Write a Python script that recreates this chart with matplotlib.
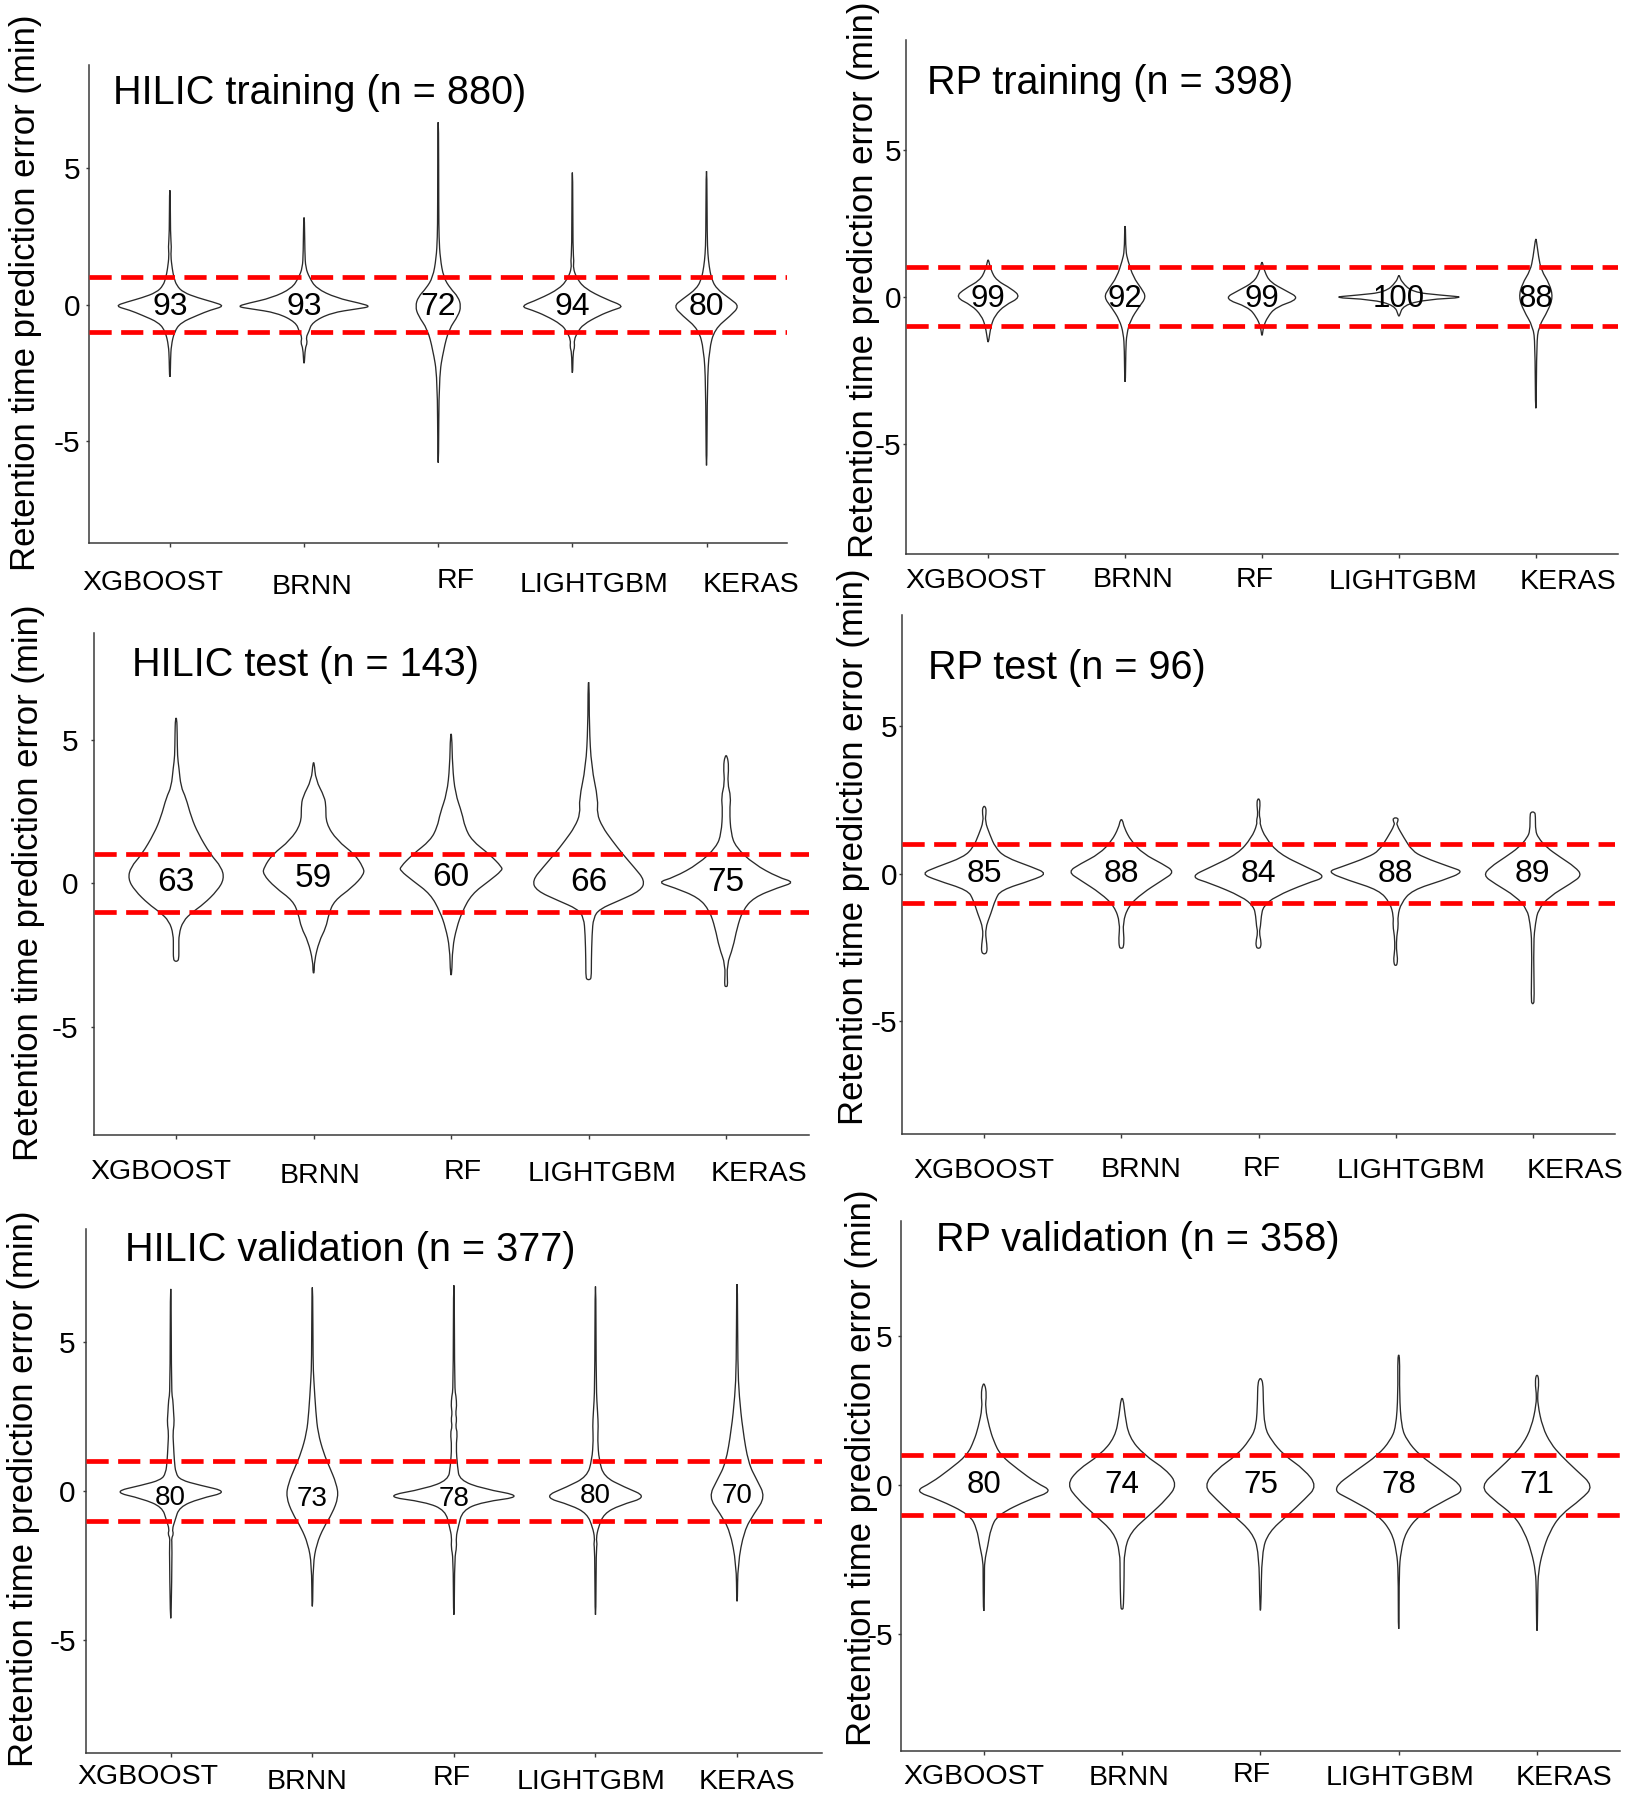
import matplotlib
matplotlib.use("Agg")
import matplotlib.pyplot as plt
from matplotlib.path import Path
from matplotlib.patches import PathPatch
from matplotlib.transforms import ScaledTranslation
import numpy as np

plt.rcParams['font.family'] = ['Liberation Sans', 'DejaVu Sans']

# ---------------- data ----------------
models = ["XGBOOST", "BRNN", "RF", "LIGHTGBM", "KERAS"]
titles = ["HILIC training (n = 880)", "RP training (n = 398)",
          "HILIC test (n = 143)", "RP test (n = 96)",
          "HILIC validation (n = 377)", "RP validation (n = 358)"]
ylabel_text = "Retention time prediction error (min)"
yticks = [-5, 0, 5]
tolerance = [1, -1]

# % of compounds inside +/-1 min window
hilic_train_pct = [93, 93, 72, 94, 80]
rp_train_pct = [99, 92, 99, 100, 88]
hilic_test_pct = [63, 59, 60, 66, 75]
rp_test_pct = [85, 88, 84, 88, 89]
hilic_val_pct = [80, 73, 78, 80, 70]
rp_val_pct = [80, 74, 75, 78, 71]

# y position of the percentage label
hilic_train_lab_y = [-0.1, -0.1, -0.1, -0.1, -0.1]
rp_train_lab_y = [-0.07, -0.07, -0.07, -0.07, -0.07]
hilic_test_lab_y = [0.03, 0.15, 0.2, 0.03, 0.03]
rp_test_lab_y = [0.0, 0.0, 0.0, 0.0, 0.0]
hilic_val_lab_y = [-0.23, -0.27, -0.27, -0.19, -0.19]
rp_val_lab_y = [0.0, 0.0, 0.0, 0.0, 0.0]

# violin outlines: (error in min, half width in category units)
hilic_train_violins = {
    "XGBOOST": [(4.2, .003), (2.6, .004), (2.1, .012), (1.8, .006), (1.3, .018), (1.0, .03), (0.7, .05),
                (0.45, .1), (0.25, .21), (0.1, .32), (-0.05, .41), (-0.2, .3), (-0.38, .21), (-0.66, .08),
                (-1.0, .033), (-1.5, .01), (-2.0, .005), (-2.65, .003)],
    "BRNN": [(3.2, .003), (1.9, .006), (1.35, .012), (1.0, .04), (0.6, .09), (0.25, .24), (0.05, .42),
             (-0.07, .5), (-0.15, .4), (-0.3, .2), (-0.65, .06), (-1.0, .035), (-1.2, .015), (-1.4, .025),
             (-1.6, .008), (-2.15, .003)],
    "RF": [(6.7, .003), (3.5, .004), (2.45, .006), (1.7, .015), (1.0, .04), (0.6, .09), (0.28, .15),
           (-0.06, .17), (-0.4, .15), (-0.9, .08), (-1.65, .04), (-2.65, .006), (-5.8, .003)],
    "LIGHTGBM": [(4.85, .003), (2.0, .004), (1.6, .012), (1.35, .006), (1.0, .03), (0.6, .09), (0.2, .25),
                 (-0.06, .39), (-0.2, .3), (-0.4, .2), (-0.73, .08), (-1.0, .04), (-1.3, .012), (-1.55, .018),
                 (-1.75, .005), (-2.5, .003)],
    "KERAS": [(4.9, .003), (2.5, .005), (1.85, .01), (1.4, .02), (1.0, .035), (0.6, .07), (0.2, .18),
              (-0.06, .245), (-0.4, .18), (-0.9, .06), (-1.65, .02), (-2.9, .006), (-5.9, .003)],
}
rp_train_violins = {
    "XGBOOST": [(1.25, .003), (0.9, .02), (0.55, .06), (0.27, .17), (-0.02, .24), (-0.3, .12), (-0.64, .05),
                (-1.0, .02), (-1.55, .003)],
    "BRNN": [(2.4, .003), (1.55, .005), (1.23, .02), (0.66, .06), (0.27, .12), (-0.02, .155), (-0.36, .1),
             (-0.8, .04), (-1.26, .012), (-1.8, .005), (-2.9, .003)],
    "RF": [(1.17, .003), (0.83, .02), (0.49, .06), (0.21, .17), (-0.07, .28), (-0.36, .1), (-0.7, .04),
           (-1.03, .01), (-1.32, .003)],
    "LIGHTGBM": [(0.72, .003), (0.49, .02), (0.15, .1), (0.05, .3), (-0.03, .5), (-0.1, .2), (-0.3, .03),
                 (-0.67, .003)],
    "KERAS": [(1.96, .003), (1.34, .02), (0.89, .04), (0.43, .1), (-0.02, .125), (-0.47, .09), (-1.03, .02),
              (-1.6, .006), (-3.8, .003)],
}
hilic_test_violins = {
    "XGBOOST": [(5.75, .005), (5.2, .008), (4.4, .01), (4.05, .02), (3.35, .035), (3.0, .07), (2.3, .11),
                (1.73, .16), (1.0, .25), (0.56, .33), (0.15, .35), (-0.26, .3), (-0.73, .2), (-1.0, .12),
                (-1.32, .05), (-1.78, .02), (-2.25, .02), (-2.65, .02), (-2.72, .008)],
    "BRNN": [(4.2, .005), (3.6, .015), (3.0, .08), (2.66, .09), (2.08, .09), (1.49, .17), (1.0, .3),
             (0.56, .36), (0.32, .37), (-0.15, .28), (-0.61, .15), (-1.08, .11), (-1.55, .09), (-2.02, .04),
             (-2.72, .005), (-3.13, .005)],
    "RF": [(5.2, .005), (4.06, .01), (3.13, .03), (2.43, .08), (1.96, .1), (1.49, .15), (1.0, .28),
           (0.56, .37), (0.44, .37), (0.09, .28), (-0.38, .15), (-1.0, .08), (-1.55, .04), (-2.25, .01),
           (-3.2, .005)],
    "LIGHTGBM": [(7.0, .004), (5.47, .005), (4.06, .02), (2.9, .07), (2.43, .06), (1.96, .1), (1.49, .17),
                 (1.0, .25), (0.56, .33), (0.09, .41), (-0.26, .38), (-0.61, .22), (-0.9, .08), (-1.2, .035),
                 (-1.78, .025), (-2.72, .02), (-3.3, .02), (-3.36, .008)],
    "KERAS": [(4.44, .008), (4.06, .02), (3.48, .01), (3.01, .035), (2.54, .025), (1.73, .035), (1.26, .07),
              (0.67, .2), (0.2, .38), (0.03, .5), (-0.15, .38), (-0.5, .2), (-0.96, .12), (-1.55, .08),
              (-2.25, .05), (-2.84, .005), (-3.55, .012), (-3.6, .005)],
}
rp_test_violins = {
    "XGBOOST": [(2.28, .008), (2.11, .015), (1.78, .005), (1.33, .04), (0.89, .08), (0.56, .15), (0.22, .35),
                (0.0, .46), (-0.22, .35), (-0.56, .12), (-0.89, .08), (-1.33, .05), (-1.89, .005),
                (-2.44, .02), (-2.65, .02), (-2.72, .008)],
    "BRNN": [(1.83, .008), (1.56, .02), (1.11, .07), (0.67, .16), (0.33, .3), (0.06, .39), (-0.22, .3),
             (-0.67, .15), (-1.11, .05), (-1.67, .01), (-2.22, .02), (-2.5, .015), (-2.53, .005)],
    "RF": [(2.53, .008), (2.33, .012), (2.0, .004), (1.8, .015), (1.67, .01), (1.22, .05), (0.67, .15),
           (0.22, .35), (-0.11, .5), (-0.33, .35), (-0.78, .12), (-1.11, .035), (-1.44, .02), (-1.78, .015),
           (-2.0, .005), (-2.33, .02), (-2.5, .015), (-2.53, .005)],
    "LIGHTGBM": [(1.89, .02), (1.75, .015), (1.67, .005), (1.22, .06), (0.78, .12), (0.56, .2), (0.22, .4),
                 (0.06, .5), (-0.22, .35), (-0.56, .12), (-1.0, .04), (-1.44, .015), (-1.78, .02),
                 (-2.11, .008), (-2.56, .005), (-2.89, .015), (-3.08, .01), (-3.11, .004)],
    "KERAS": [(2.09, .015), (1.95, .02), (1.45, .02), (1.22, .04), (0.89, .1), (0.56, .2), (0.22, .31),
              (-0.06, .36), (-0.33, .28), (-0.78, .12), (-1.22, .04), (-1.67, .02), (-2.33, .005),
              (-4.3, .012), (-4.41, .005)],
}
hilic_val_violins = {
    "XGBOOST": [(6.77, .003), (3.3, .005), (3.07, .015), (2.62, .02), (2.27, .025), (1.94, .015), (1.49, .02),
                (1.03, .025), (0.58, .035), (0.36, .07), (0.19, .2), (-0.04, .41), (-0.27, .2), (-0.55, .06),
                (-1.0, .03), (-1.3, .01), (-1.45, .02), (-1.6, .005), (-1.8, .01), (-4.28, .003)],
    "BRNN": [(6.82, .003), (4.31, .005), (3.75, .01), (2.62, .025), (1.94, .04), (1.26, .08), (0.81, .12),
             (0.24, .17), (-0.21, .185), (-0.77, .14), (-1.23, .08), (-1.79, .03), (-2.47, .005),
             (-3.88, .003)],
    "RF": [(6.89, .003), (3.41, .005), (3.18, .015), (2.84, .02), (2.6, .012), (2.39, .02), (2.15, .012),
           (1.94, .025), (1.49, .015), (0.81, .025), (0.36, .04), (0.07, .2), (-0.19, .5), (-0.38, .2),
           (-0.66, .06), (-1.23, .03), (-1.56, .015), (-1.9, .02), (-2.24, .005), (-4.16, .003)],
    "LIGHTGBM": [(6.85, .003), (3.41, .005), (2.62, .015), (2.16, .02), (1.71, .015), (1.03, .025),
                 (0.47, .06), (0.13, .2), (-0.21, .37), (-0.49, .17), (-0.77, .06), (-1.23, .02),
                 (-1.6, .005), (-1.79, .012), (-2.0, .005), (-4.16, .003)],
    "KERAS": [(6.93, .003), (4.2, .005), (3.18, .015), (2.05, .04), (0.92, .08), (0.36, .14), (-0.21, .2),
              (-0.77, .12), (-1.34, .05), (-2.47, .005), (-3.71, .003)],
}
rp_val_violins = {
    "XGBOOST": [(3.38, .008), (3.03, .02), (2.59, .01), (1.93, .04), (1.49, .07), (1.0, .12), (0.51, .25),
                (0.07, .38), (-0.21, .5), (-0.48, .33), (-1.0, .1), (-1.47, .05), (-2.02, .03), (-2.57, .005),
                (-3.01, .005), (-4.22, .003)],
    "BRNN": [(2.9, .008), (2.37, .02), (1.6, .05), (1.0, .16), (0.51, .32), (0.01, .4), (-0.48, .32),
             (-1.0, .2), (-1.58, .06), (-2.24, .015), (-3.01, .015), (-4.1, .01), (-4.16, .004)],
    "RF": [(3.56, .01), (3.3, .02), (2.9, .02), (1.93, .03), (1.49, .08), (1.0, .17), (0.51, .32),
           (-0.04, .41), (-0.48, .32), (-1.0, .2), (-1.58, .06), (-2.24, .01), (-4.2, .004)],
    "LIGHTGBM": [(4.35, .008), (3.03, .005), (1.93, .02), (1.49, .06), (1.0, .15), (0.51, .3), (-0.15, .49),
                 (-0.48, .35), (-1.0, .15), (-1.58, .05), (-2.24, .015), (-2.9, .003), (-4.82, .003)],
    "KERAS": [(3.67, .01), (3.3, .012), (3.1, .005), (2.7, .005), (1.93, .04), (1.38, .1), (1.0, .17),
              (0.51, .28), (-0.04, .41), (-0.48, .32), (-1.0, .17), (-1.58, .09), (-2.24, .04), (-2.9, .01),
              (-3.56, .005), (-4.88, .003)],
}

panel_violins = [hilic_train_violins, rp_train_violins, hilic_test_violins,
                 rp_test_violins, hilic_val_violins, rp_val_violins]
panel_pct = [hilic_train_pct, rp_train_pct, hilic_test_pct, rp_test_pct, hilic_val_pct, rp_val_pct]
panel_lab_y = [hilic_train_lab_y, rp_train_lab_y, hilic_test_lab_y, rp_test_lab_y,
               hilic_val_lab_y, rp_val_lab_y]

# ---------------- layout (pixels of the 1629x1800 canvas) ----------------
W, H, DPI = 1629, 1800, 100
layout = [
    dict(box=(89.4, 787, 65, 543), ylim=(-8.75, 8.8), title=(113, 93), ylab=(26, 293), gap=9,
         xl_x=[153, 312, 456, 594, 751], xl_y=[582.5, 587, 581, 585, 585], nsize=23),
    dict(box=(906, 1618, 40, 554), ylim=(-8.76, 8.73), title=(927, 83), ylab=(864, 280), gap=5,
         xl_x=[976, 1133, 1255, 1403, 1568], xl_y=[581, 580, 580, 582, 582], nsize=22.5),
    dict(box=(93.6, 808.6, 632.5, 1135), ylim=(-8.77, 8.73), title=(132.5, 665), ylab=(28.6, 883), gap=15.6,
         xl_x=[160.6, 320, 463, 602, 759], xl_y=[1172, 1175.6, 1172, 1174.4, 1174.4], nsize=24),
    dict(box=(902, 1615, 615, 1134), ylim=(-8.83, 8.77), title=(928, 668), ylab=(854, 847), gap=5,
         xl_x=[984, 1141, 1262, 1411, 1575], xl_y=[1171, 1170, 1168.7, 1171, 1171], nsize=23),
    dict(box=(85.8, 822, 1229, 1753), ylim=(-8.8, 8.78), title=(124.7, 1250), ylab=(23.4, 1489), gap=10,
         xl_x=[147.6, 307, 452, 590.6, 747], xl_y=[1777, 1781.7, 1778, 1781.7, 1781.7], nsize=20),
    dict(box=(900.8, 1620, 1221, 1751), ylim=(-8.91, 8.84), title=(935.6, 1240), ylab=(861.8, 1468), gap=8,
         xl_x=[973.5, 1129.4, 1251.6, 1399.7, 1564], xl_y=[1777, 1778, 1775, 1778, 1778], nsize=22.5),
]

PX = 72.0 / DPI  # points per pixel


def smooth_closed(points):
    pts = np.asarray(points, dtype=float)
    n = len(pts)
    mids = (pts + np.roll(pts, -1, axis=0)) / 2.0
    verts = [mids[-1]]
    codes = [Path.MOVETO]
    for i in range(n):
        verts += [pts[i], mids[i]]
        codes += [Path.CURVE3, Path.CURVE3]
    verts.append(mids[-1])
    codes.append(Path.CLOSEPOLY)
    return Path(verts, codes)


fig = plt.figure(figsize=(W / DPI, H / DPI), dpi=DPI)
fig.patch.set_facecolor("white")

axes = []
for k, lay in enumerate(layout):
    l, r, t, b = lay["box"]
    ax = fig.add_axes([l / W, 1 - b / H, (r - l) / W, (b - t) / H])
    axes.append(ax)
    ax.set_xlim(0.4, 5.6)
    ax.set_ylim(*lay["ylim"])
    for s in ["top", "right"]:
        ax.spines[s].set_visible(False)
    for s in ["left", "bottom"]:
        ax.spines[s].set_linewidth(1.1)
        ax.spines[s].set_color("#3a3a3a")

    # violins
    for i, m in enumerate(models):
        prof = panel_violins[k][m]
        ys = [p[0] for p in prof]
        ws = [p[1] for p in prof]
        c = i + 1
        right = [(c + w, y) for y, w in zip(ys, ws)]
        left = [(c - w, y) for y, w in zip(ys[::-1], ws[::-1])]
        patch = PathPatch(smooth_closed(right + left), facecolor="white", edgecolor="#2a2a2a",
                          lw=0.95, zorder=2)
        ax.add_patch(patch)

    # +/- 1 min tolerance lines
    for yv in tolerance:
        ax.axhline(yv, color="#ff0000", lw=3.4, dashes=(4.7, 2.0), zorder=3)

    # percentages
    for i, (pct, ly) in enumerate(zip(panel_pct[k], panel_lab_y[k])):
        ax.text(i + 1, ly, str(pct), ha="center", va="center", fontsize=lay["nsize"], zorder=4)

    ax.set_xticks(range(1, 6))
    ax.set_xticklabels(models)
    ax.set_yticks(yticks)
    ax.set_yticklabels([str(v) for v in yticks])
    ax.tick_params(axis="x", length=4 * PX, width=1, color="#3a3a3a", labelsize=20.5, pad=12)
    ax.tick_params(axis="y", length=3 * PX, width=1, color="#3a3a3a", labelsize=21.5,
                   pad=max(lay["gap"] - 3, 1) * PX)

    ax.set_ylabel(ylabel_text, fontsize=25)
    ax.yaxis.set_label_coords(lay["ylab"][0] / W, 1 - lay["ylab"][1] / H, transform=fig.transFigure)
    ax.yaxis.label.set_verticalalignment("center")

    ax.text(lay["title"][0] / W, 1 - lay["title"][1] / H, titles[k], transform=fig.transFigure,
            ha="left", va="center", fontsize=28.5)

# position the category labels where they are in the reference
fig.canvas.draw()
renderer = fig.canvas.get_renderer()
for k, ax in enumerate(axes):
    lay = layout[k]
    for j, lbl in enumerate(ax.get_xticklabels()):
        bb = lbl.get_window_extent(renderer)
        cx, cy = (bb.x0 + bb.x1) / 2, (bb.y0 + bb.y1) / 2
        tx, ty = lay["xl_x"][j], H - lay["xl_y"][j]
        lbl.set_transform(lbl.get_transform() +
                          ScaledTranslation((tx - cx) / DPI, (ty - cy) / DPI, fig.dpi_scale_trans))

fig.savefig("out.png", dpi=DPI, facecolor="white")
